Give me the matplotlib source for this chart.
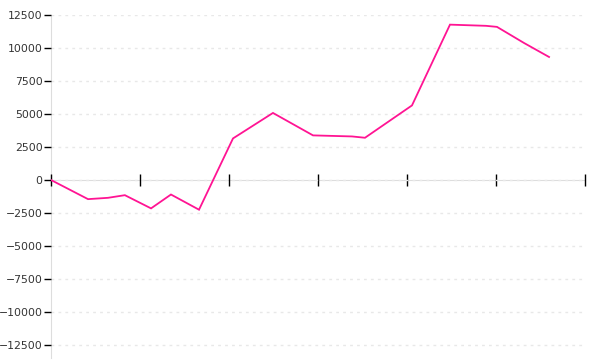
import matplotlib
matplotlib.use("Agg")
import matplotlib.pyplot as plt

# x positions in tick units (six unlabeled ticks), y values
x_pos = [0.0, 0.416, 0.64, 0.83, 1.124, 1.348, 1.663, 2.045, 2.494, 2.944,
         3.382, 3.528, 4.056, 4.483, 4.888, 5.011, 5.315, 5.596]
values = [0, -1450, -1350, -1150, -2150, -1100, -2250, 3150, 5080, 3380,
          3300, 3200, 5650, 11770, 11680, 11600, 10380, 9320]
y_ticks = [12500, 10000, 7500, 5000, 2500, 0, -2500, -5000, -7500, -10000, -12500]
x_ticks = [0, 1, 2, 3, 4, 5, 6]

fig = plt.figure(figsize=(6, 3.6), dpi=100)
ax = fig.add_axes([51 / 600, 2 / 360, 534 / 600, 343 / 360])

ax.plot(x_pos, values, color="#ff1493", lw=1.3, solid_joinstyle="miter", zorder=3)

ax.set_xlim(0, 6)
ax.set_ylim(-13485, 12500)
ax.set_yticks(y_ticks)
ax.set_yticklabels([str(v).replace("-", "\u2212") for v in y_ticks])
ax.set_xticks(x_ticks)
ax.set_xticklabels([""] * len(x_ticks))

ax.yaxis.grid(True, color="#e8e8e8", linestyle=(0, (2, 3)), lw=1)

for side in ["top", "right"]:
    ax.spines[side].set_visible(False)
ax.spines["left"].set_color("#dddddd")
ax.spines["bottom"].set_color("#dddddd")
ax.spines["bottom"].set_position(("data", 0))
ax.spines["left"].set_zorder(0.4)
ax.spines["bottom"].set_zorder(0.4)

ax.tick_params(axis="y", length=5, width=1, color="black", labelsize=7.8,
               labelcolor="#333333", pad=1)
ax.tick_params(axis="x", direction="inout", length=9, width=1, color="black")

fig.savefig("out.png", dpi=100)
